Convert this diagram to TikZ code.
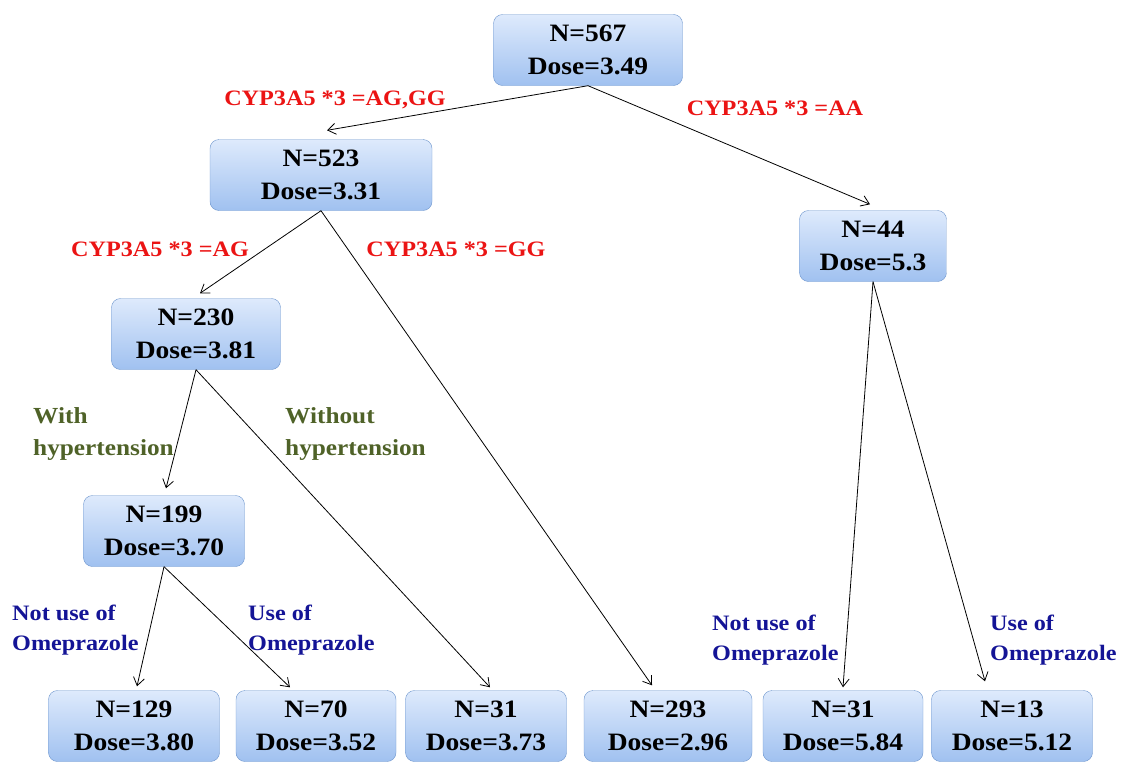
\documentclass[tikz,border=0pt]{standalone}
\usepackage{fontspec}
\setmainfont{Liberation Serif}[FakeStretch=1.1]
\usetikzlibrary{arrows.meta}

\definecolor{cypred}{RGB}{235,20,20}
\definecolor{hypolive}{RGB}{79,98,40}
\definecolor{omeblue}{RGB}{20,20,150}
\definecolor{boxtop}{RGB}{222,234,252}
\definecolor{boxbot}{RGB}{160,193,240}
\definecolor{boxedge}{RGB}{110,150,205}

\begin{document}
\begin{tikzpicture}[x=1pt,y=-1pt,
    box/.style={draw=boxedge, rounded corners=9pt, top color=boxtop, bottom color=boxbot,
      minimum height=71pt, align=center, inner sep=0pt,
      font=\bfseries\fontsize{25}{33}\selectfont},
    cyp/.style={text=cypred, inner sep=0pt, font=\bfseries\fontsize{22}{30}\selectfont},
    hyp/.style={text=hypolive, align=left, anchor=west, inner sep=0pt,
      font=\bfseries\fontsize{23}{32}\selectfont},
    ome/.style={text=omeblue, align=left, anchor=west, inner sep=0pt,
      font=\bfseries\fontsize{22}{30}\selectfont},
    arr/.style={-{Straight Barb[length=8pt,width=11pt]}, line width=0.8pt}]
  \useasboundingbox (0,0) rectangle (1121,763);
  % tree nodes
  \node[box, minimum width=189pt] (n567) at (588,50)  {N=567\\Dose=3.49};
  \node[box, minimum width=222pt] (n523) at (321,175) {N=523\\Dose=3.31};
  \node[box, minimum width=147pt] (n44)  at (873,246) {N=44\\Dose=5.3};
  \node[box, minimum width=169pt] (n230) at (196,334) {N=230\\Dose=3.81};
  \node[box, minimum width=161pt] (n199) at (164,531) {N=199\\Dose=3.70};
  % leaves
  \node[box, minimum width=171pt] (n129) at (134,726) {N=129\\Dose=3.80};
  \node[box, minimum width=160pt] (n70)  at (316,726) {N=70\\Dose=3.52};
  \node[box, minimum width=161pt] (n31a) at (486,726) {N=31\\Dose=3.73};
  \node[box, minimum width=168pt] (n293) at (668,726) {N=293\\Dose=2.96};
  \node[box, minimum width=160pt] (n31b) at (843,726) {N=31\\Dose=5.84};
  \node[box, minimum width=161pt] (n13)  at (1012,726) {N=13\\Dose=5.12};
  % splits
  \draw[arr] (n567.south) -- ([shift={(6,-9)}]n523.north);
  \draw[arr] (n567.south) -- ([shift={(-3,-6)}]n44.north);
  \draw[arr] (n523.south) -- ([shift={(4,-5)}]n230.north);
  \draw[arr] (n523.south) -- ([shift={(-16,-5)}]n293.north);
  \draw[arr] (n230.south) -- ([shift={(2,-7)}]n199.north);
  \draw[arr] (n230.south) -- ([shift={(4,-3)}]n31a.north);
  \draw[arr] (n199.south) -- ([shift={(3,-4)}]n129.north);
  \draw[arr] (n199.south) -- ([shift={(-26,-3)}]n70.north);
  \draw[arr] (n44.south)  -- ([shift={(0,-3)}]n31b.north);
  \draw[arr] (n44.south)  -- ([shift={(-27,-9)}]n13.north);
  % split labels
  \node[cyp] (lagg) at (335,100) {CYP3A5 *3 =AG,GG};
  \node[cyp] (laa)  at (775,108) {CYP3A5 *3 =AA};
  \node[cyp] (lag)  at (160,249) {CYP3A5 *3 =AG};
  \node[cyp] (lgg)  at (456,249) {CYP3A5 *3 =GG};
  \node[hyp] (lwith)    at (33,434)  {With\\hypertension};
  \node[hyp] (lwithout) at (285,434) {Without\\hypertension};
  \node[ome] (lnot1) at (12,630)  {Not use of\\Omeprazole};
  \node[ome] (luse1) at (248,630) {Use of\\Omeprazole};
  \node[ome] (lnot2) at (712,640) {Not use of\\Omeprazole};
  \node[ome] (luse2) at (990,640) {Use of\\Omeprazole};
\end{tikzpicture}
\end{document}
